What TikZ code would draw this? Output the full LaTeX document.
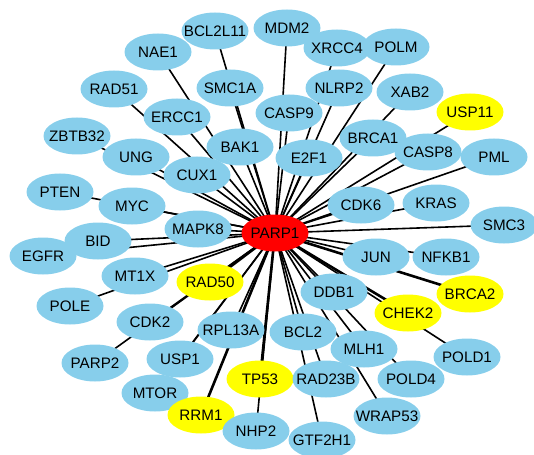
\documentclass[tikz,border=0pt]{standalone}
\usepackage{fontspec}
\setmainfont{Liberation Sans}
\usetikzlibrary{shapes.geometric,backgrounds}
\definecolor{genblue}{RGB}{135,206,235}
\definecolor{hityellow}{RGB}{255,255,0}
\definecolor{hubred}{RGB}{255,0,0}
% label of fixed-size ellipse: the text takes no width of its own
\newcommand\gname[1]{\makebox[0pt]{#1}}
\begin{document}
\begin{tikzpicture}[x=1pt,y=-1pt,
  gene/.style={ellipse, fill=genblue, minimum width=67pt, minimum height=37pt,
               inner sep=0pt, font=\fontsize{15.2}{17}\selectfont},
  hit/.style={gene, fill=hityellow},
  hub/.style={gene, fill=hubred},
  link/.style={line width=1.6pt},
  heavy/.style={line width=2.6pt}]
\useasboundingbox (0,0) rectangle (534,454);

% top
\node[gene] (MDM2)    at (287,28)  {\gname{MDM2}};
\node[gene] (BCL2L11) at (215,31)  {\gname{BCL2L11}};
\node[gene] (XRCC4)   at (337,48)  {\gname{XRCC4}};
\node[gene] (POLM)    at (396,47)  {\gname{POLM}};
\node[gene] (NAE1)    at (158,52)  {\gname{NAE1}};
\node[gene] (SMC1A)   at (230,88)  {\gname{SMC1A}};
\node[gene] (NLRP2)   at (339,88)  {\gname{NLRP2}};
\node[gene] (RAD51)   at (114,89)  {\gname{RAD51}};
\node[gene] (XAB2)    at (410,92)  {\gname{XAB2}};
\node[hit]  (USP11)   at (470,112) {\gname{USP11}};
\node[gene] (CASP9)   at (289,113) {\gname{CASP9}};
\node[gene] (ERCC1)   at (177,117) {\gname{ERCC1}};
\node[gene] (ZBTB32)  at (77,136)  {\gname{ZBTB32}};
\node[gene] (BRCA1)   at (373,138) {\gname{BRCA1}};
\node[gene] (BAK1)    at (240,147) {\gname{BAK1}};
\node[gene] (CASP8)   at (428,152) {\gname{CASP8}};
\node[gene] (PML)     at (494,157) {\gname{PML}};
\node[gene] (UNG)     at (136,157) {\gname{UNG}};
\node[gene] (E2F1)    at (309,158) {\gname{E2F1}};
\node[gene] (CUX1)    at (197,175) {\gname{CUX1}};
\node[gene] (PTEN)    at (60,192)  {\gname{PTEN}};
\node[gene] (KRAS)    at (436,203) {\gname{KRAS}};
\node[gene] (CDK6)    at (361,205) {\gname{CDK6}};
\node[gene] (MYC)     at (132,206) {\gname{MYC}};
% middle band
\node[gene] (SMC3)    at (504,225) {\gname{SMC3}};
\node[gene] (MAPK8)   at (198,229) {\gname{MAPK8}};
\node[hub]  (PARP1)   at (275,233) {\gname{PARP1}};
\node[gene] (EGFR)    at (43,256)  {\gname{EGFR}};
\node[gene] (BID)     at (98,241)  {\gname{BID}};
\node[gene] (JUN)     at (376,257) {\gname{JUN}};
\node[gene] (NFKB1)   at (446,257) {\gname{NFKB1}};
\node[gene] (MT1X)    at (135,276) {\gname{MT1X}};
\node[hit]  (RAD50)   at (210,282) {\gname{RAD50}};
\node[gene] (DDB1)    at (334,292) {\gname{DDB1}};
\node[hit]  (BRCA2)   at (470,294) {\gname{BRCA2}};
% bottom
\node[gene] (POLE)    at (70,306)  {\gname{POLE}};
\node[hit]  (CHEK2)   at (408,313) {\gname{CHEK2}};
\node[gene] (CDK2)    at (150,322) {\gname{CDK2}};
\node[gene] (RPL13A)  at (231,330) {\gname{RPL13A}};
\node[gene] (BCL2)    at (303,332) {\gname{BCL2}};
\node[gene] (MLH1)    at (364,349) {\gname{MLH1}};
\node[gene] (POLD1)   at (467,357) {\gname{POLD1}};
\node[gene] (USP1)    at (180,359) {\gname{USP1}};
\node[gene] (PARP2)   at (95,363)  {\gname{PARP2}};
\node[hit]  (TP53)    at (260,379) {\gname{TP53}};
\node[gene] (RAD23B)  at (326,379) {\gname{RAD23B}};
\node[gene] (POLD4)   at (411,379) {\gname{POLD4}};
\node[gene] (MTOR)    at (155,393) {\gname{MTOR}};
\node[hit]  (RRM1)    at (201,415) {\gname{RRM1}};
\node[gene] (WRAP53)  at (387,416) {\gname{WRAP53}};
\node[gene] (NHP2)    at (256,431) {\gname{NHP2}};
\node[gene] (GTF2H1)  at (322,440) {\gname{GTF2H1}};

% interactions of PARP1, drawn beneath all ellipses
\begin{scope}[on background layer]
  \foreach \g in {MDM2,BCL2L11,XRCC4,POLM,NAE1,SMC1A,NLRP2,RAD51,XAB2,USP11,
                  CASP9,ERCC1,ZBTB32,BRCA1,BAK1,CASP8,PML,UNG,E2F1,CUX1,PTEN,
                  KRAS,CDK6,MYC,SMC3,MAPK8,EGFR,BID,JUN,NFKB1,MT1X,DDB1,POLE,
                  CDK2,RPL13A,BCL2,MLH1,POLD1,USP1,PARP2,RAD23B,POLD4,MTOR,
                  WRAP53,NHP2,GTF2H1}
    \draw[link] (PARP1.center) -- (\g.center);
  \foreach \g in {RAD50,BRCA2,CHEK2,TP53,RRM1}
    \draw[heavy] (PARP1.center) -- (\g.center);
\end{scope}
\end{tikzpicture}
\end{document}
